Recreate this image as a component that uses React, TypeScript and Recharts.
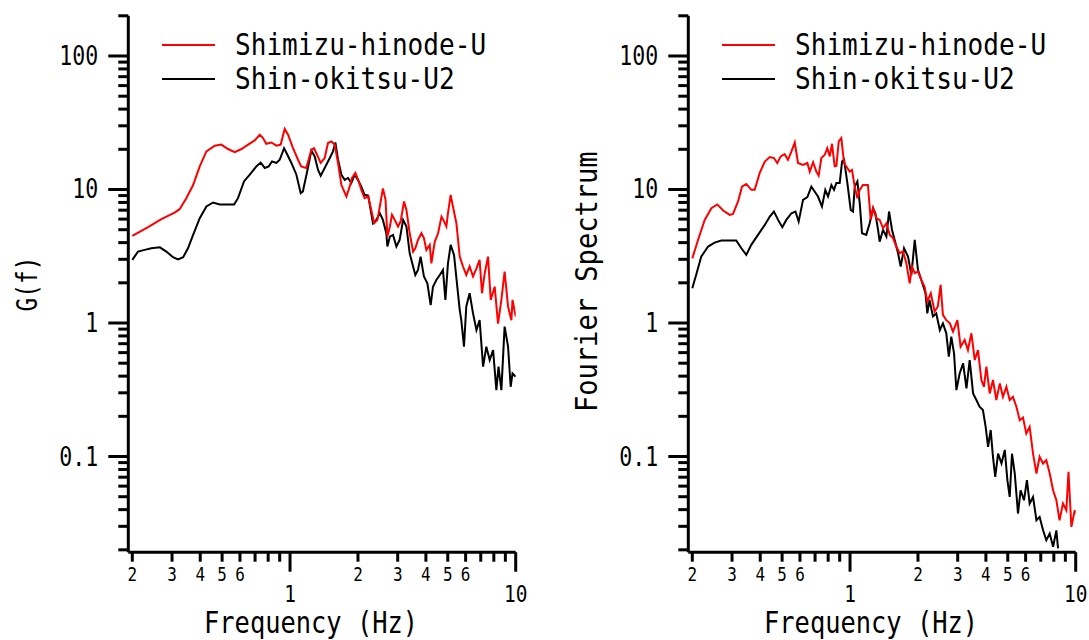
import React from "react";
import { Legend, Line, LineChart, XAxis, YAxis } from "recharts";

type Pt = [number, number];

// G(f) panel  [frequency Hz, value]
const gfShimizu: Pt[] = [
  [0.2, 4.49], [0.235, 5.22], [0.269, 5.99], [0.308, 6.72], [0.324, 7.12], [0.347, 8.61],
  [0.372, 10.8], [0.398, 14.9], [0.426, 19.3], [0.464, 21.3], [0.496, 21.7], [0.531, 20.1],
  [0.569, 19.05], [0.609, 20.1], [0.652, 21.7], [0.697, 23.3], [0.734, 25.7], [0.759, 24.3],
  [0.785, 22.0], [0.827, 22.5], [0.87, 21.3], [0.909, 21.7], [0.947, 28.4], [0.98, 25.7],
  [1.031, 20.4], [1.085, 16.7], [1.12, 14.9], [1.18, 14.5], [1.243, 19.8], [1.277, 20.4],
  [1.317, 18.2], [1.367, 15.8], [1.424, 17.2], [1.473, 22.3], [1.524, 22.9], [1.577, 21.7],
  [1.632, 15.8], [1.689, 10.8], [1.777, 8.86], [1.838, 10.5], [1.882, 12.2], [1.948, 13.3],
  [2.015, 11.5], [2.07, 9.94], [2.14, 8.61], [2.22, 8.86], [2.29, 7.04], [2.36, 5.59],
  [2.44, 5.92], [2.5, 7.46], [2.58, 10.2], [2.65, 8.36], [2.7, 4.44], [2.77, 5.28],
  [2.83, 6.46], [2.91, 5.92], [3.01, 5.28], [3.09, 5.75], [3.2, 8.13], [3.28, 7.04],
  [3.39, 4.7], [3.51, 3.43], [3.59, 3.63], [3.69, 4.19], [3.82, 4.7], [3.92, 4.32],
  [4.02, 3.53], [4.16, 3.85], [4.23, 2.8], [4.38, 4.07], [4.53, 4.7], [4.69, 6.27],
  [4.82, 5.75], [4.93, 5.28], [5.01, 6.64], [5.15, 9.12], [5.27, 7.46], [5.46, 5.59],
  [5.65, 3.14], [5.84, 2.65], [6.04, 2.29], [6.25, 2.65], [6.47, 2.23], [6.7, 2.57],
  [6.92, 2.97], [7.09, 1.67], [7.29, 2.36], [7.54, 3.14], [7.75, 1.49], [8.07, 1.87],
  [8.35, 0.99], [8.64, 1.49], [8.93, 2.43], [9.25, 1.33], [9.57, 1.05], [9.68, 1.49],
  [10, 1.12],
];

const gfShinOkitsu: Pt[] = [
  [0.2, 2.97], [0.212, 3.43], [0.227, 3.53], [0.243, 3.63], [0.265, 3.69], [0.283, 3.43],
  [0.303, 3.11], [0.319, 3.0], [0.336, 3.11], [0.353, 3.63], [0.372, 4.57], [0.398, 6.1],
  [0.426, 7.46], [0.456, 7.99], [0.488, 7.73], [0.522, 7.73], [0.565, 7.73], [0.588, 8.61],
  [0.625, 11.5], [0.663, 12.9], [0.709, 14.9], [0.741, 15.9], [0.773, 14.5], [0.804, 14.9],
  [0.832, 16.2], [0.87, 15.8], [0.9, 16.7], [0.941, 20.4], [0.973, 18.2], [1.014, 15.8],
  [1.067, 12.9], [1.115, 9.39], [1.14, 9.67], [1.2, 14.5], [1.243, 19.6], [1.286, 17.7],
  [1.331, 14.0], [1.367, 12.7], [1.424, 14.5], [1.5, 17.2], [1.55, 19.3], [1.588, 22.5],
  [1.632, 16.7], [1.689, 12.9], [1.747, 11.8], [1.807, 12.2], [1.87, 11.2], [1.935, 12.9],
  [2.0, 11.8], [2.07, 10.5], [2.14, 9.12], [2.22, 8.99], [2.33, 5.59], [2.41, 5.92],
  [2.5, 6.64], [2.58, 5.92], [2.67, 4.7], [2.7, 3.74], [2.77, 4.44], [2.86, 4.57],
  [2.96, 3.74], [3.06, 4.19], [3.17, 5.92], [3.28, 5.28], [3.39, 3.33], [3.51, 2.65],
  [3.59, 2.29], [3.69, 2.5], [3.79, 3.14], [3.92, 2.23], [4.06, 1.98], [4.2, 1.36],
  [4.3, 1.87], [4.45, 2.1], [4.61, 2.29], [4.76, 2.5], [4.88, 1.49], [5.01, 2.8],
  [5.15, 3.85], [5.33, 3.24], [5.51, 1.87], [5.65, 1.25], [5.74, 1.05], [5.9, 0.665],
  [6.04, 1.33], [6.25, 1.67], [6.47, 1.18], [6.7, 0.886], [6.92, 1.05], [7.17, 0.471],
  [7.41, 0.665], [7.67, 0.528], [7.94, 0.627], [8.21, 0.314], [8.39, 0.471], [8.64, 0.314],
  [8.93, 0.939], [9.25, 0.665], [9.5, 0.333], [9.68, 0.419], [10, 0.396],
];

// Fourier spectrum panel
const fsShimizu: Pt[] = [
  [0.2, 3.05], [0.212, 4.19], [0.227, 5.92], [0.243, 7.24], [0.258, 7.73], [0.274, 6.96],
  [0.293, 6.46], [0.303, 6.57], [0.319, 8.13], [0.332, 10.5], [0.347, 11.0], [0.365, 9.94],
  [0.378, 9.94], [0.398, 13.3], [0.419, 16.2], [0.441, 17.5], [0.46, 17.2], [0.476, 15.8],
  [0.493, 17.7], [0.513, 18.4], [0.531, 16.7], [0.55, 19.3], [0.569, 22.5], [0.588, 15.8],
  [0.619, 15.3], [0.647, 15.8], [0.663, 13.6], [0.686, 16.0], [0.709, 13.6], [0.726, 12.7],
  [0.746, 17.2], [0.773, 18.2], [0.793, 20.4], [0.813, 17.7], [0.832, 22.0], [0.855, 14.9],
  [0.87, 15.0], [0.891, 22.9], [0.915, 24.3], [0.941, 15.8], [0.973, 14.5], [0.997, 13.6],
  [1.02, 14.0], [1.049, 10.5], [1.078, 8.61], [1.104, 9.94], [1.14, 10.8], [1.2, 10.8],
  [1.235, 5.92], [1.265, 7.24], [1.308, 6.1], [1.353, 5.92], [1.4, 5.13], [1.449, 5.59],
  [1.5, 4.57], [1.55, 4.32], [1.604, 3.74], [1.66, 3.33], [1.718, 3.43], [1.777, 2.8],
  [1.838, 1.98], [1.882, 2.65], [1.935, 2.36], [2.0, 2.43], [2.07, 2.1], [2.14, 1.87],
  [2.2, 1.45], [2.28, 1.67], [2.37, 1.22], [2.45, 1.33], [2.52, 1.93], [2.58, 1.15],
  [2.67, 1.05], [2.77, 0.994], [2.86, 0.861], [2.99, 1.05], [3.09, 0.665], [3.22, 0.746],
  [3.33, 0.627], [3.45, 0.837], [3.57, 0.528], [3.69, 0.627], [3.82, 0.374], [3.92, 0.333],
  [4.02, 0.471], [4.16, 0.297], [4.3, 0.374], [4.45, 0.265], [4.61, 0.353], [4.76, 0.28],
  [4.93, 0.333], [5.1, 0.265], [5.27, 0.28], [5.46, 0.236], [5.65, 0.187], [5.84, 0.196],
  [6.04, 0.149], [6.25, 0.167], [6.47, 0.105], [6.7, 0.0746], [6.92, 0.0994], [7.17, 0.0886],
  [7.41, 0.0938], [7.67, 0.0746], [7.94, 0.0559], [8.21, 0.047], [8.48, 0.0333], [8.78, 0.0444],
  [9.09, 0.0396], [9.29, 0.0767], [9.57, 0.0297], [9.9, 0.0396], [10, 0.0374],
];

const fsShinOkitsu: Pt[] = [
  [0.2, 1.82], [0.209, 2.36], [0.219, 3.14], [0.235, 3.74], [0.251, 4.0], [0.269, 4.15],
  [0.293, 4.15], [0.313, 4.15], [0.33, 3.63], [0.347, 3.24], [0.365, 3.85], [0.391, 4.57],
  [0.419, 5.43], [0.441, 6.27], [0.46, 6.84], [0.48, 5.92], [0.501, 5.22], [0.522, 5.92],
  [0.55, 6.64], [0.573, 6.84], [0.592, 5.75], [0.619, 8.36], [0.647, 8.76], [0.674, 10.5],
  [0.697, 9.67], [0.721, 8.86], [0.751, 7.46], [0.777, 9.94], [0.799, 8.86], [0.827, 10.8],
  [0.849, 9.94], [0.87, 11.2], [0.9, 11.2], [0.922, 16.2], [0.941, 16.7], [0.973, 11.2],
  [1.007, 7.04], [1.031, 6.84], [1.049, 10.5], [1.078, 11.5], [1.104, 7.9], [1.13, 4.7],
  [1.18, 4.57], [1.222, 5.59], [1.265, 7.24], [1.295, 6.64], [1.331, 4.98], [1.353, 4.07],
  [1.4, 4.98], [1.449, 4.44], [1.489, 6.84], [1.535, 4.98], [1.577, 4.19], [1.632, 3.33],
  [1.677, 2.65], [1.735, 3.63], [1.807, 3.14], [1.87, 2.29], [1.935, 4.19], [2.0, 2.5],
  [2.07, 2.1], [2.16, 1.67], [2.2, 1.18], [2.25, 1.49], [2.33, 1.12], [2.41, 1.18],
  [2.5, 0.886], [2.58, 0.994], [2.67, 0.837], [2.74, 0.559], [2.81, 0.79], [2.89, 0.592],
  [2.96, 0.314], [3.06, 0.419], [3.17, 0.498], [3.28, 0.324], [3.39, 0.528], [3.51, 0.297],
  [3.63, 0.265], [3.75, 0.236], [3.88, 0.223], [3.99, 0.167], [4.09, 0.118], [4.2, 0.158],
  [4.3, 0.0994], [4.4, 0.0704], [4.53, 0.105], [4.69, 0.0886], [4.85, 0.112], [4.98, 0.0665],
  [5.1, 0.0498], [5.22, 0.105], [5.37, 0.0746], [5.55, 0.0374], [5.7, 0.0559], [5.9, 0.047],
  [6.08, 0.0665], [6.25, 0.0444], [6.47, 0.0498], [6.7, 0.0333], [6.92, 0.0353], [7.17, 0.028],
  [7.41, 0.0236], [7.67, 0.0265], [7.94, 0.0211], [8.21, 0.028], [8.35, 0.0205],
];

const seriesNames = ["Shimizu-hinode-U", "Shin-okitsu-U2"];
const seriesColors = ["#ff0000", "#000000"];

const xTicks = [
  0.2, 0.3, 0.4, 0.5, 0.6, 0.7, 0.8, 0.9, 1, 2, 3, 4, 5, 6, 7, 8, 9, 10,
];
const xTickLabels: Record<string, string> = {
  "0.2": "2", "0.3": "3", "0.4": "4", "0.5": "5", "0.6": "6",
  "1": "1", "2": "2", "3": "3", "4": "4", "5": "5", "6": "6", "10": "10",
};
const yTicks = [
  0.02, 0.03, 0.04, 0.05, 0.06, 0.07, 0.08, 0.09,
  0.1, 0.2, 0.3, 0.4, 0.5, 0.6, 0.7, 0.8, 0.9,
  1, 2, 3, 4, 5, 6, 7, 8, 9,
  10, 20, 30, 40, 50, 60, 70, 80, 90,
  100, 200,
];
const yTickLabels: Record<string, string> = {
  "0.1": "0.1", "1": "1", "10": "10", "100": "100",
};

const FONT = "'DejaVu Sans Mono', monospace";

const isDecade = (v: number) => {
  const l = Math.log10(v);
  return Math.abs(l - Math.round(l)) < 1e-9;
};

const toRows = (pts: Pt[]) => pts.map(([f, v]) => ({ f, v }));

function NarrowText({ x, y, size, adv, anchor = "start", rotate = 0, children }: any) {
  const sx = adv / (0.602 * size);
  return (
    <text
      transform={`translate(${x},${y}) rotate(${rotate}) scale(${sx},1)`}
      fontFamily={FONT}
      fontSize={size}
      textAnchor={anchor}
      fill="#000"
    >
      {children}
    </text>
  );
}

const XTick = (props: any) => {
  const { x, y, payload } = props;
  const v = payload.value;
  const major = isDecade(v);
  const label = xTickLabels[String(v)];
  return (
    <g>
      <line x1={x} x2={x} y1={y} y2={y + (major ? 19.5 : 9.5)} stroke="#000" strokeWidth={3} />
      {label &&
        (major ? (
          <NarrowText x={x} y={y + 49.5} size={23} adv={11.7} anchor="middle">{label}</NarrowText>
        ) : (
          <NarrowText x={x} y={y + 28.5} size={19} adv={9.6} anchor="middle">{label}</NarrowText>
        ))}
    </g>
  );
};

const YTick = (props: any) => {
  const { x, y, payload } = props;
  const v = payload.value;
  const major = isDecade(v);
  const label = yTickLabels[String(v)];
  return (
    <g>
      <line x1={x - (major ? 20 : 10)} x2={x} y1={y} y2={y} stroke="#000" strokeWidth={3} />
      {label && (
        <NarrowText x={x - 30} y={y + 9} size={26} adv={13} anchor="end">{label}</NarrowText>
      )}
    </g>
  );
};

const XTitle = ({ viewBox }: any) => (
  <NarrowText x={viewBox.x + 75.7} y={viewBox.y + 81} size={30.5} adv={15.3}>
    Frequency (Hz)
  </NarrowText>
);

const YTitle = ({ viewBox, text, size, adv, dy }: any) => (
  <NarrowText
    x={viewBox.x + viewBox.width - 91.3}
    y={viewBox.y + dy}
    size={size}
    adv={adv}
    anchor="middle"
    rotate={-90}
  >
    {text}
  </NarrowText>
);

const renderLegend = (props: any) => {
  const items = [...(props.payload ?? [])].sort(
    (a: any, b: any) => seriesNames.indexOf(a.value) - seriesNames.indexOf(b.value)
  );
  return (
    <svg width={520} height={110} style={{ overflow: "visible", display: "block" }}>
      {items.map((it: any, i: number) => (
        <g key={it.value}>
          <line x1={162} x2={215} y1={45 + i * 34} y2={45 + i * 34} stroke={it.color} strokeWidth={2} />
          <NarrowText x={235} y={55 + i * 34.3} size={30.5} adv={15.7}>{it.value}</NarrowText>
        </g>
      ))}
    </svg>
  );
};

function Panel({ width, red, black, yTitle }: any) {
  return (
    <LineChart
      width={width}
      height={640}
      margin={{ top: 15.8, left: 127.3, right: width - 515.7, bottom: 86.8 }}
    >
      <XAxis
        dataKey="f"
        type="number"
        scale="log"
        domain={[0.192, 10]}
        allowDataOverflow
        ticks={xTicks}
        interval={0}
        height={1}
        tickSize={0}
        tickMargin={0}
        tickLine={false}
        tick={(p: any) => <XTick {...p} />}
        axisLine={{ stroke: "#000", strokeWidth: 3 }}
        label={<XTitle />}
      />
      <YAxis
        type="number"
        scale="log"
        domain={[0.0192, 200]}
        allowDataOverflow
        ticks={yTicks}
        interval={0}
        width={1}
        tickSize={0}
        tickMargin={0}
        tickLine={false}
        tick={(p: any) => <YTick {...p} />}
        axisLine={{ stroke: "#000", strokeWidth: 3 }}
        label={<YTitle {...yTitle} />}
      />
      <Legend
        layout="horizontal"
        verticalAlign="middle"
        content={renderLegend}
        wrapperStyle={{ top: 0, left: 0, width: 520, height: 110 }}
      />
      <Line
        data={toRows(black)}
        dataKey="v"
        name={seriesNames[1]}
        stroke={seriesColors[1]}
        strokeWidth={2}
        dot={false}
        activeDot={false}
        type="linear"
        isAnimationActive={false}
      />
      <Line
        data={toRows(red)}
        dataKey="v"
        name={seriesNames[0]}
        stroke={seriesColors[0]}
        strokeWidth={2}
        dot={false}
        activeDot={false}
        type="linear"
        isAnimationActive={false}
      />
    </LineChart>
  );
}

export default function App() {
  return (
    <div style={{ position: "absolute", left: 0, top: 0, width: 1089, height: 640, background: "#fff" }}>
      <div style={{ position: "absolute", left: 0, top: 0 }}>
        <Panel
          width={545}
          red={gfShimizu}
          black={gfShinOkitsu}
          yTitle={{ text: "G(f)", size: 29, adv: 13.7, dy: 268.2 }}
        />
      </div>
      <div style={{ position: "absolute", left: 560, top: 0 }}>
        <Panel
          width={529}
          red={fsShimizu}
          black={fsShinOkitsu}
          yTitle={{ text: "Fourier Spectrum", size: 30.5, adv: 16.3, dy: 265.9 }}
        />
      </div>
    </div>
  );
}
